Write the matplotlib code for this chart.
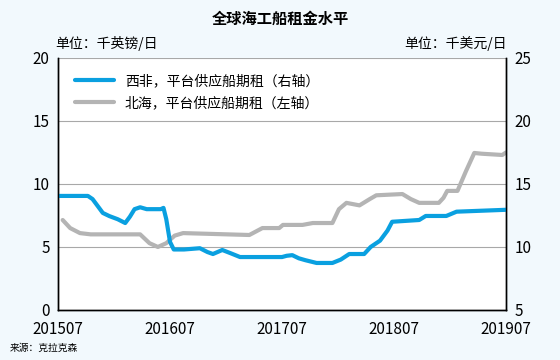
import matplotlib
matplotlib.use("Agg")
import matplotlib.pyplot as plt

plt.rcParams['font.family'] = ['Noto Sans CJK SC', 'DejaVu Sans']

# months since 2015-07
wa_months = [0, 3.2, 3.7, 4.3, 4.8, 5.5, 6.4, 7.2, 7.7, 8.2, 8.8, 9.5, 11.0, 11.3, 11.6,
             12.0, 12.4, 13.5, 15.2, 16.0, 16.6, 17.6, 18.5, 19.5, 24.0, 24.5, 25.1,
             25.8, 26.5, 27.7, 29.4, 30.3, 31.2, 32.8, 33.5, 34.5, 35.3, 35.8, 38.7,
             39.4, 41.6, 42.7, 48]
wa_rate = [14.05, 14.05, 13.8, 13.2, 12.7, 12.45, 12.2, 11.9, 12.4, 13.0, 13.15, 13.0,
           13.0, 13.1, 12.2, 10.4, 9.8, 9.8, 9.9, 9.6, 9.44, 9.76, 9.5, 9.2, 9.2,
           9.3, 9.35, 9.1, 8.95, 8.73, 8.73, 9.0, 9.44, 9.44, 10.0, 10.5, 11.3, 12.0,
           12.14, 12.46, 12.46, 12.8, 12.95]

ns_months = [0.5, 1.3, 2.35, 3.5, 8.8, 9.8, 10.7, 11.6, 12.5, 13.4, 20.5, 21.9, 23.7,
             24.1, 26.2, 27.3, 29.4, 30.1, 30.9, 32.3, 33.4, 34.1, 36.9, 37.8, 38.7,
             40.8, 41.3, 41.7, 42.8, 43.7, 44.6, 45.4, 47.6, 48]
ns_rate = [7.14, 6.5, 6.1, 6.0, 6.0, 5.3, 5.0, 5.3, 5.9, 6.1, 5.95, 6.5, 6.5, 6.75,
           6.75, 6.9, 6.9, 8.0, 8.5, 8.3, 8.8, 9.1, 9.2, 8.8, 8.5, 8.5, 8.9, 9.45,
           9.45, 11.0, 12.46, 12.4, 12.3, 12.5]

tick_months = [0, 12, 24, 36, 48]
tick_labels = ['201507', '201607', '201707', '201807', '201907']

blue = '#0AA0E0'
gray = '#B4B4B4'

fig = plt.figure(figsize=(5.6, 3.6), dpi=100, facecolor='#F2F9FD')
ax = fig.add_axes([0.1036, 0.139, 0.8, 0.7])
ax2 = ax.twinx()

ax.set_ylim(0, 20)
ax2.set_ylim(5, 25)
ax.set_xlim(0, 48)
ax.set_yticks([0, 5, 10, 15, 20])
ax2.set_yticks([5, 10, 15, 20, 25])
ax.set_xticks(tick_months)
ax.set_xticklabels(tick_labels)
for y in [5, 10, 15, 20]:
    ax.axhline(y, color='#A8A8A8', lw=0.8, zorder=0)

l2, = ax.plot(ns_months, ns_rate, color=gray, lw=3, solid_joinstyle='round',
              solid_capstyle='round', label='北海，平台供应船期租（左轴）')
l1, = ax2.plot(wa_months, wa_rate, color=blue, lw=3, solid_joinstyle='round',
               solid_capstyle='round', label='西非，平台供应船期租（右轴）')

for a in (ax, ax2):
    a.tick_params(length=0, labelsize=11, pad=6)
    a.spines['top'].set_visible(False)
    for s in ('left', 'right', 'bottom'):
        a.spines[s].set_color('black')
        a.spines[s].set_linewidth(1)
ax.tick_params(axis='x', pad=8)

leg = ax.legend(handles=[l1, l2], loc='upper left', bbox_to_anchor=(0.01, 0.985),
                frameon=False, fontsize=10, handlelength=2.8, labelspacing=0.55)

fig.text(0.5, 0.948, '全球海工船租金水平', ha='center', va='center',
         fontsize=11, fontweight='bold')
fig.text(0.098, 0.878, '单位：千英镑/日', ha='left', va='center', fontsize=10)
fig.text(0.905, 0.878, '单位：千美元/日', ha='right', va='center', fontsize=10)
fig.text(0.018, 0.035, '来源：克拉克森', ha='left', va='center', fontsize=7)

fig.savefig('out.png', dpi=100, facecolor=fig.get_facecolor())
